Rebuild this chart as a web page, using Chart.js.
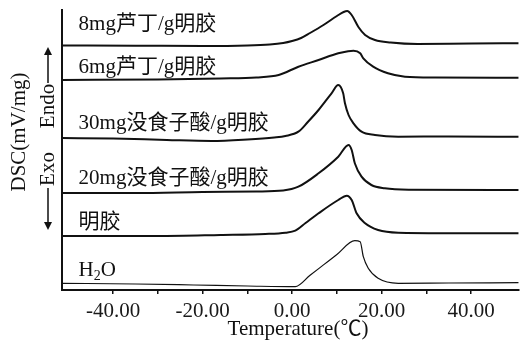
<!DOCTYPE html>
<html>
<head>
<meta charset="utf-8">
<script src="https://cdn.jsdelivr.net/npm/chart.js@4/dist/chart.umd.min.js"></script>
<style>
  html, body { margin: 0; padding: 0; background: #fff; }
</style>
</head>
<body>
<canvas id="chartDsc" width="521" height="340"></canvas>
<script>
// DSC curves, temperature in °C, signal as stacked offset (arbitrary units)
var names = ['8mg芦丁/g明胶', '6mg芦丁/g明胶', '30mg没食子酸/g明胶', '20mg没食子酸/g明胶', '明胶', 'H2O'];

var rutin8T = [-51.4, -35, -20, -10, -5, -2, 0, 2, 4, 7, 10, 11.5, 12.3, 13.3, 14.8, 16.3, 18.5, 22, 28, 40, 50.6];
var rutin8Y = [244.5, 244.3, 244, 244.5, 245.5, 247, 249, 252, 257, 265, 274, 278, 279, 275, 263, 255, 250, 247.5, 246, 246.5, 246.7];

var rutin6T = [-51.4, -30, -16, -8, -3, 1.4, 5.9, 10.3, 12.5, 13.7, 15.2, 15.9, 18.1, 21.4, 25.2, 32, 50.6];
var rutin6Y = [210, 210.5, 211.5, 212.5, 215, 223.3, 230, 236.7, 238.8, 239.3, 236.7, 231.7, 223.3, 216.7, 213.3, 212.5, 212.3];

var gallic30T = [-51.4, -40, -28, -18, -10, -4, -1.5, 1.4, 3.5, 5.9, 8.8, 10.3, 11.4, 11.8, 12.6, 13.7, 15.5, 18.5, 23.7, 35, 50.6];
var gallic30Y = [152, 151.5, 150, 149, 150.5, 152.5, 154, 158.3, 168, 180, 196.7, 205, 196.7, 186.7, 175, 166.7, 158.3, 155, 153.3, 153.5, 153.3];

var gallic20T = [-51.4, -35, -20, -8, -2, 1.4, 5.9, 10.3, 12.6, 13.3, 14, 15.5, 17.7, 20.7, 26, 50.6];
var gallic20Y = [97, 97, 98, 98.5, 99.5, 103.3, 116.7, 133.3, 145, 140, 126.7, 113.3, 105, 101.7, 100.3, 100];

var gelatinT = [-51.4, -30, -16, -6, -1.5, 0.7, 3, 5.9, 10.3, 12.2, 13.3, 14.4, 16.3, 19.2, 23.7, 35, 50.6];
var gelatinY = [54, 54, 55, 56, 57.3, 59.3, 67, 76.7, 90, 94.3, 90, 76.7, 66.7, 60, 57.3, 56.8, 56.7];

var waterT = [-51.4, -35, -22, -10, 0.7, 4, 7, 10, 14, 15.2, 15.9, 17, 19.2, 23.7, 35, 50.6];
var waterY = [6.7, 6, 5, 4, 3.3, 14.7, 25.1, 35.5, 49.3, 48.3, 33.3, 21.7, 11.7, 6.7, 7, 7.3];

var xLabelTicks = [-40, -20, 0, 20, 40];

// how far above each baseline its name sits (px)
var labelLift = [21, 13, 15, 15, 14, 13];
var textFont = '"Liberation Serif", "Noto Sans CJK SC", serif';

function pts(t, y) {
  return t.map(function (v, i) { return { x: v, y: y[i] }; });
}

function makeSet(name, t, y, w) {
  return {
    label: name,
    data: pts(t, y),
    borderColor: '#111',
    borderWidth: w,
    pointRadius: 0,
    fill: false,
    cubicInterpolationMode: 'monotone'
  };
}

function arrowHead(ctx, x, y, dir) {
  ctx.beginPath();
  ctx.moveTo(x, y);
  ctx.lineTo(x - 4, y - dir * 8);
  ctx.lineTo(x + 4, y - dir * 8);
  ctx.closePath();
  ctx.fill();
}

var dscText = {
  id: 'dscText',
  afterDatasetsDraw: function (chart) {
    var ctx = chart.ctx;
    var xs = chart.scales.x, ys = chart.scales.y;
    ctx.save();
    ctx.fillStyle = '#111';
    ctx.strokeStyle = '#111';
    ctx.textBaseline = 'middle';
    ctx.textAlign = 'left';

    // curve names
    chart.data.datasets.forEach(function (ds, i) {
      var px = xs.getPixelForValue(-47.7);
      var py = ys.getPixelForValue(ds.data[0].y) - labelLift[i];
      ctx.font = '21px ' + textFont;
      if (ds.label === 'H2O') {
        ctx.fillText('H', px, py);
        var w = ctx.measureText('H').width;
        ctx.font = '14px ' + textFont;
        ctx.fillText('2', px + w, py + 6);
        var w2 = ctx.measureText('2').width;
        ctx.font = '21px ' + textFont;
        ctx.fillText('O', px + w + w2, py);
      } else {
        ctx.fillText(ds.label, px, py);
      }
    });

    // x title
    ctx.font = '21px ' + textFont;
    ctx.textAlign = 'center';
    ctx.fillText('Temperature(℃)', 298, 329);

    // y title and Endo / Exo arrows
    ctx.save();
    ctx.translate(19, 132);
    ctx.rotate(-Math.PI / 2);
    ctx.fillText('DSC(mV/mg)', 0, 0);
    ctx.restore();

    ctx.save();
    ctx.translate(48, 106);
    ctx.rotate(-Math.PI / 2);
    ctx.fillText('Endo', 0, 0);
    ctx.restore();
    ctx.save();
    ctx.translate(48, 169);
    ctx.rotate(-Math.PI / 2);
    ctx.fillText('Exo', 0, 0);
    ctx.restore();

    ctx.lineWidth = 1.5;
    ctx.beginPath();
    ctx.moveTo(48, 54); ctx.lineTo(48, 83);
    ctx.moveTo(48, 188); ctx.lineTo(48, 222);
    ctx.stroke();
    arrowHead(ctx, 48, 47, -1);
    arrowHead(ctx, 48, 230, 1);
    ctx.restore();
  }
};

var ctx1 = document.getElementById('chartDsc').getContext('2d');
var chart1 = new Chart(ctx1, {
  type: 'line',
  data: {
    datasets: [
      makeSet(names[0], rutin8T, rutin8Y, 2),
      makeSet(names[1], rutin6T, rutin6Y, 2),
      makeSet(names[2], gallic30T, gallic30Y, 2),
      makeSet(names[3], gallic20T, gallic20Y, 2),
      makeSet(names[4], gelatinT, gelatinY, 2),
      makeSet(names[5], waterT, waterY, 1.2)
    ]
  },
  options: {
    responsive: false,
    animation: false,
    layout: { padding: { top: 10, left: 0, right: 0, bottom: 0 } },
    plugins: { legend: { display: false }, tooltip: { enabled: false } },
    scales: {
      x: {
        type: 'linear',
        min: -51.4,
        max: 50.6,
        afterFit: function (s) { s.height = 50; },
        border: { display: true, color: '#111', width: 2 },
        grid: {
          drawOnChartArea: false,
          tickLength: 4,
          lineWidth: 1.5,
          color: function (c) {
            return (c.tick && Math.abs(c.tick.value) <= 40) ? '#111' : 'rgba(0,0,0,0)';
          }
        },
        ticks: {
          stepSize: 10,
          includeBounds: false,
          autoSkip: false,
          maxRotation: 0,
          padding: 5,
          color: '#1a1a1a',
          font: { family: textFont, size: 21 },
          callback: function (v) {
            return xLabelTicks.indexOf(v) >= 0 ? v.toFixed(2) : '';
          }
        }
      },
      y: {
        min: 0,
        max: 280,
        afterFit: function (s) { s.width = 62; },
        border: { display: true, color: '#111', width: 2 },
        grid: { display: false },
        ticks: { display: false }
      }
    }
  },
  plugins: [dscText]
});
</script>
</body>
</html>
